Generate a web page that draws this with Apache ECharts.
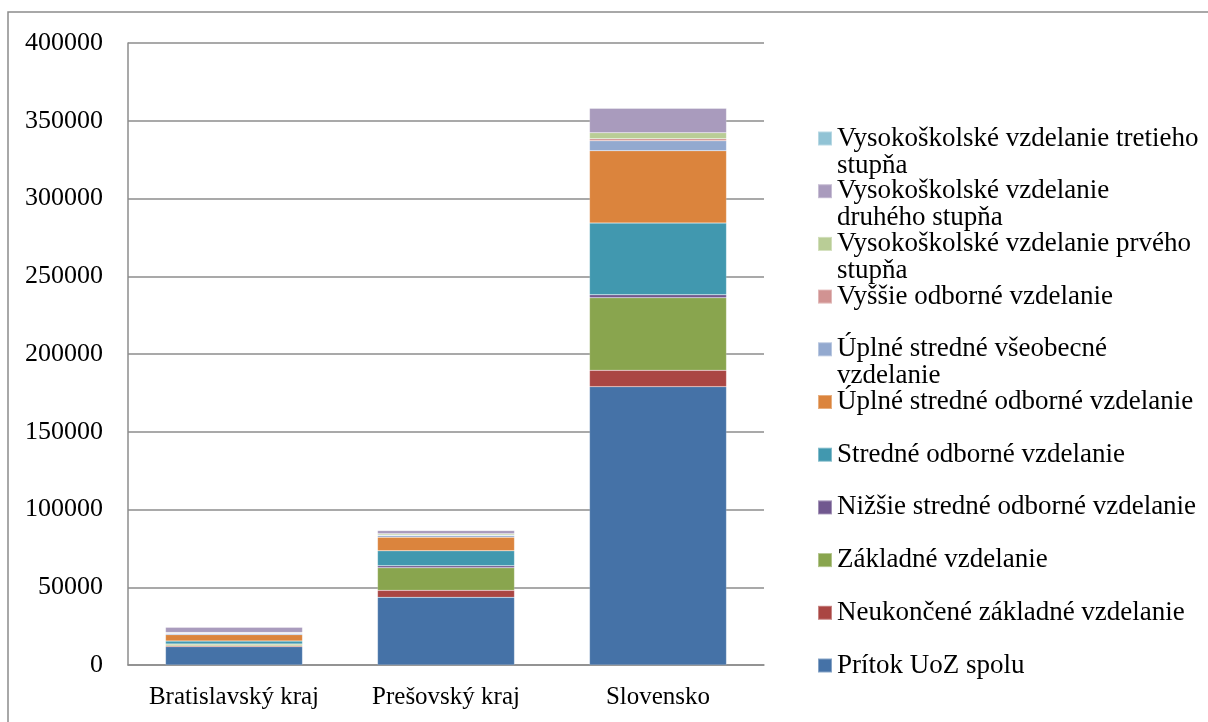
<!DOCTYPE html>
<html>
<head>
<meta charset="utf-8">
<script src="https://cdn.jsdelivr.net/npm/echarts@6/dist/echarts.min.js"></script>
<style>
html,body{margin:0;padding:0;background:#fff;}
#c1{width:1208px;height:722px;}
</style>
</head>
<body>
<div id="c1"></div>
<script>
// kategorie
var categories = ['Bratislavský kraj', 'Prešovský kraj', 'Slovensko'];

// odhad hodnot z grafu, poradie zdola nahor
var seriesNames = [
    'Prítok UoZ spolu',
    'Neukončené základné vzdelanie',
    'Základné vzdelanie',
    'Nižšie stredné odborné vzdelanie',
    'Stredné odborné vzdelanie',
    'Úplné stredné odborné vzdelanie',
    'Úplné stredné všeobecné vzdelanie',
    'Vyššie odborné vzdelanie',
    'Vysokoškolské vzdelanie prvého stupňa',
    'Vysokoškolské vzdelanie druhého stupňa',
    'Vysokoškolské vzdelanie tretieho stupňa'
];
// zalomenie textu v legende
var legendLabels = [
    'Prítok UoZ spolu',
    'Neukončené základné vzdelanie',
    'Základné vzdelanie',
    'Nižšie stredné odborné vzdelanie',
    'Stredné odborné vzdelanie',
    'Úplné stredné odborné vzdelanie',
    'Úplné stredné všeobecné\nvzdelanie',
    'Vyššie odborné vzdelanie',
    'Vysokoškolské vzdelanie prvého\nstupňa',
    'Vysokoškolské vzdelanie\ndruhého stupňa',
    'Vysokoškolské vzdelanie tretieho\nstupňa'
];
var v_pritok      = [11800, 43500, 179000];
var v_neukoncene  = [600, 4500, 10500];
var v_zakladne    = [900, 14500, 46700];
var v_nizsie      = [200, 1300, 1900];
var v_stredne     = [1900, 9600, 46100];
var v_uplneOdb    = [4100, 8800, 46500];
var v_uplneVseob  = [800, 1100, 6400];
var v_vyssie      = [200, 300, 1300];
var v_vs1         = [400, 800, 3900];
var v_vs2         = [3400, 2100, 15700];
var v_vs3         = [300, 200, 400];
var allValues = [v_pritok, v_neukoncene, v_zakladne, v_nizsie, v_stredne, v_uplneOdb,
                 v_uplneVseob, v_vyssie, v_vs1, v_vs2, v_vs3];

var yTicks = [0, 50000, 100000, 150000, 200000, 250000, 300000, 350000, 400000];

var colors = ['#4572A7', '#AA4643', '#89A54E', '#71588F', '#4198AF', '#DB843D',
              '#93A9CF', '#D19392', '#B9CD96', '#A99BBD', '#91C3D5'];

var font = '"Liberation Serif", "Times New Roman", serif';

var series = [];
for (var i = 0; i < seriesNames.length; i++) {
    series.push({
        name: seriesNames[i],
        type: 'bar',
        stack: 'a',
        barWidth: 137,
        data: allValues[i],
        itemStyle: { color: colors[i], borderColor: 'rgba(255,255,255,0.35)', borderWidth: 0.5 }
    });
}

var c1_chart = echarts.init(document.getElementById('c1'));
c1_chart.setOption({
    animation: false,
    color: colors,
    graphic: [{
        type: 'rect',
        shape: { x: 8, y: 12, width: 1400, height: 900 },
        style: { fill: 'none', stroke: '#8c8c8c', lineWidth: 1.5 },
        silent: true
    }],
    grid: { left: 128, right: 444, top: 43, bottom: 57, containLabel: false },
    xAxis: {
        type: 'category',
        data: categories,
        axisLine: { lineStyle: { color: '#8c8c8c', width: 1.5 } },
        axisTick: { show: false },
        axisLabel: { color: '#000', fontFamily: font, fontSize: 25, margin: 20, interval: 0 }
    },
    yAxis: {
        type: 'value',
        min: yTicks[0],
        max: yTicks[yTicks.length - 1],
        interval: yTicks[1] - yTicks[0],
        axisLine: { show: true, lineStyle: { color: '#8c8c8c', width: 1.5 } },
        axisTick: { show: false },
        splitLine: { lineStyle: { color: '#8c8c8c', width: 1.5 } },
        axisLabel: {
            color: '#000', fontFamily: font, fontSize: 26, margin: 25,
            formatter: function (v) { return String(v); }
        }
    },
    legend: {
        orient: 'vertical',
        left: 812,
        top: 93,
        itemWidth: 14,
        itemHeight: 14,
        itemGap: -28.3,
        data: seriesNames.slice().reverse(),
        formatter: function (name) {
            var t = legendLabels[seriesNames.indexOf(name)];
            // tri riadky na polozku: znacka stoji pri prvom riadku textu
            return ' \n' + (t.indexOf('\n') < 0 ? t + '\n ' : t);
        },
        textStyle: { color: '#000', fontFamily: font, fontSize: 27, lineHeight: 27 },
        icon: 'rect'
    },
    series: series
});
</script>
</body>
</html>
